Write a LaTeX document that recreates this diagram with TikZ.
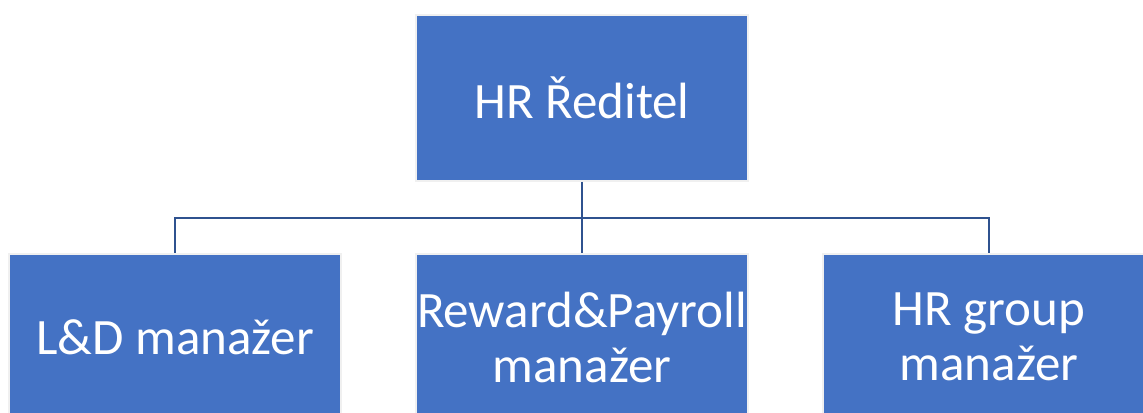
\documentclass[tikz,border=0pt]{standalone}
\usepackage{fontspec}
\setmainfont{Carlito}

\definecolor{boxblue}{HTML}{4472C4}
\definecolor{lineblue}{HTML}{2F528F}

\begin{document}
\begin{tikzpicture}[x=0.5pt,y=-0.5pt,
        role/.style={fill=boxblue,draw=gray!12,line width=0.8pt,
            minimum width=166pt,minimum height=83pt,inner sep=0pt,
            text=white,align=center,font=\fontsize{25.5}{27.5}\selectfont},
        link/.style={draw=lineblue,line width=1.4pt}]
        % page size, the lower row runs off the edge
        \useasboundingbox (0,0) rectangle (1143,412);
        \clip (0,0) rectangle (1143,412);

        % director on top
        \node[role] (director) at (582,98) {HR Ředitel};

        % managers below
        \node[role] (ld) at (175,337) {L\&D manažer};
        \node[role] (reward) at (582,337) {Reward\&Payroll\\manažer};
        \node[role] (group) at (989,337) {HR group\\manažer};

        % tree lines
        \coordinate (split) at (582,218);
        \draw[link] (director.south) -- (split);
        \foreach \m in {ld,reward,group}
                \draw[link] (split) -| (\m.north);
\end{tikzpicture}
\end{document}
